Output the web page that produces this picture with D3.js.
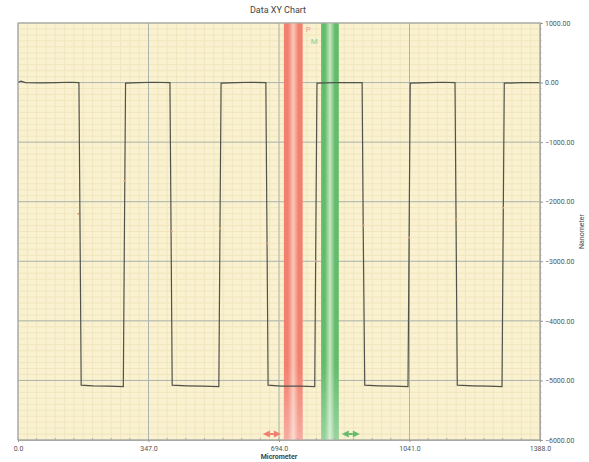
<!DOCTYPE html>
<html>
<head>
<meta charset="utf-8">
<script src="https://cdn.jsdelivr.net/npm/d3@7"></script>
<style>
  body { margin: 0; background: #fff; }
  text { font-family: Roboto, "Liberation Sans", sans-serif; }
</style>
</head>
<body>
<div id="chart"></div>
<script>
// profile data (micrometer, nanometer)
const profileX = [0, 8, 20, 60, 100, 140, 162, 165, 168, 200, 240, 280, 283, 286, 320, 360, 404, 407, 410, 450, 490, 534, 537, 540,
  580, 620, 659, 662, 665, 700, 750, 789, 792, 795, 840, 880, 915, 918, 922, 960, 1000, 1037, 1040, 1043,
  1090, 1130, 1162, 1165, 1168, 1210, 1250, 1287, 1290, 1293, 1340, 1388];
const profileY = [5, 25, 0, -5, 0, 5, 0, -2500, -5080, -5090, -5095, -5105, -2500, -10, 0, 5, 0, -2500, -5080, -5090, -5095, -5105, -2500, -10,
  0, 5, 0, -2500, -5080, -5095, -5095, -5105, -2500, -10, 0, 0, 0, -2500, -5080, -5090, -5095, -5105, -2500, -10,
  0, 5, 0, -2500, -5080, -5090, -5095, -5105, -2500, -10, 0, 0];
const markerX = [160, 283, 409, 537, 663, 792, 919, 1040, 1166, 1290];
const markerY = [-2200, -1650, -2500, -2450, -2700, -3000, -2400, -2600, -2300, -2100];

const xTicks = [0, 347, 694, 1041, 1388];
const yTicks = [1000, 0, -1000, -2000, -3000, -4000, -5000, -6000];
const redCursor = [707, 757];
const greenCursor = [806, 853];

const W = 589, H = 462;
const margin = {top: 23, right: 49, bottom: 22, left: 18};
const pw = W - margin.left - margin.right, ph = H - margin.top - margin.bottom;

const svg = d3.select("#chart").append("svg").attr("width", W).attr("height", H);
const defs = svg.append("defs");

const x = d3.scaleLinear().domain([0, 1388]).range([0, pw]);
const y = d3.scaleLinear().domain([-6000, 1000]).range([ph, 0]);

function hGrad(id, edge, mid) {
  const g = defs.append("linearGradient").attr("id", id).attr("x1", "0").attr("x2", "1").attr("y1", "0").attr("y2", "0");
  [[0, edge], [0.22, edge], [0.5, mid], [0.78, edge], [1, edge]].forEach(s =>
    g.append("stop").attr("offset", s[0]).attr("stop-color", s[1]));
}
hGrad("redG", "#f28070", "#f9c8b8");
hGrad("greenG", "#62bc6c", "#c8e6c0");
const fade = defs.append("linearGradient").attr("id", "fadeG").attr("x1", "0").attr("x2", "0").attr("y1", "0").attr("y2", "1");
fade.append("stop").attr("offset", 0.82).attr("stop-color", "#fff").attr("stop-opacity", 0);
fade.append("stop").attr("offset", 1).attr("stop-color", "#fff").attr("stop-opacity", 0.35);

svg.append("text").attr("x", 278).attr("y", 13).attr("text-anchor", "middle")
  .attr("font-size", 9).attr("fill", "#444").text("Data XY Chart");

const g = svg.append("g").attr("transform", `translate(${margin.left},${margin.top})`);

g.append("rect").attr("width", pw).attr("height", ph).attr("fill", "#f9f1cf");

// minor grid
const xMinor = d3.range(0, 1388.01, 347 / 14);
const yMinor = d3.range(-6000, 1000.01, 100);
g.selectAll(".xm").data(xMinor).enter().append("line")
  .attr("x1", d => x(d)).attr("x2", d => x(d)).attr("y1", 0).attr("y2", ph)
  .attr("stroke", "#f0e6bf").attr("stroke-width", 1);
g.selectAll(".ym").data(yMinor).enter().append("line")
  .attr("y1", d => y(d)).attr("y2", d => y(d)).attr("x1", 0).attr("x2", pw)
  .attr("stroke", "#f1e6bd").attr("stroke-width", 1);

// major grid
g.selectAll(".xg").data(xTicks).enter().append("line")
  .attr("x1", d => x(d)).attr("x2", d => x(d)).attr("y1", 0).attr("y2", ph)
  .attr("stroke", "#adb4ae").attr("stroke-width", 1);
g.selectAll(".yg").data(yTicks).enter().append("line")
  .attr("y1", d => y(d)).attr("y2", d => y(d)).attr("x1", 0).attr("x2", pw)
  .attr("stroke", "#adb4ae").attr("stroke-width", 1);

// cursors
[[redCursor, "url(#redG)"], [greenCursor, "url(#greenG)"]].forEach(c => {
  const w = x(c[0][1]) - x(c[0][0]);
  g.append("rect").attr("x", x(c[0][0])).attr("width", w).attr("y", 0).attr("height", ph).attr("fill", c[1]);
  g.append("rect").attr("x", x(c[0][0])).attr("width", w).attr("y", 0).attr("height", ph).attr("fill", "url(#fadeG)");
});
g.append("text").attr("x", x(redCursor[1]) + 3).attr("y", 9).attr("font-size", 8).attr("fill", "#f4a090").text("P");
g.append("text").attr("x", x(redCursor[1]) + 8).attr("y", 21).attr("font-size", 8).attr("fill", "#8fcf95").text("M");

// bottom arrows
function dblArrow(cx, color) {
  const a = g.append("g").attr("transform", `translate(${cx},${ph - 6})`);
  a.append("path").attr("d", "M-9,0 L-2,-3.5 L-2,3.5 Z M9,0 L2,-3.5 L2,3.5 Z").attr("fill", color);
  a.append("rect").attr("x", -2).attr("y", -1).attr("width", 4).attr("height", 2).attr("fill", color);
}
dblArrow(x(redCursor[0]) - 12, "#ee8070");
dblArrow(x(greenCursor[1]) + 12, "#66bb6e");

// profile line
const pts = profileX.map((d, i) => [d, profileY[i]]);
g.append("path").datum(pts)
  .attr("d", d3.line().x(d => x(d[0])).y(d => y(d[1])))
  .attr("fill", "none").attr("stroke", "#50524c").attr("stroke-width", 1.2);
g.selectAll(".mk").data(markerX).enter().append("circle")
  .attr("cx", d => x(d)).attr("cy", (d, i) => y(markerY[i])).attr("r", 1)
  .attr("fill", "#e8a070");

// border
g.append("rect").attr("width", pw).attr("height", ph).attr("fill", "none").attr("stroke", "#a9aaa6");

// axes
const yAxis = g.append("g").attr("transform", `translate(${pw},0)`)
  .call(d3.axisRight(y).tickValues(yTicks).tickFormat(d3.format(".2f")).tickSize(3));
yAxis.select(".domain").attr("stroke", "#a9aaa6");
yAxis.selectAll("line").attr("stroke", "#999");
yAxis.selectAll("text").attr("font-size", 7).attr("fill", "#555").attr("dx", -1);
g.append("g").attr("transform", `translate(${pw},0)`)
  .selectAll("line").data(yMinor).enter().append("line")
  .attr("x1", 0).attr("x2", 1.5).attr("y1", d => y(d)).attr("y2", d => y(d)).attr("stroke", "#aaa");

const xAxis = g.append("g").attr("transform", `translate(0,${ph})`)
  .call(d3.axisBottom(x).tickValues(xTicks).tickFormat(d3.format(".1f")).tickSize(2));
xAxis.select(".domain").attr("stroke", "#a9aaa6");
xAxis.selectAll("line").attr("stroke", "#999");
xAxis.selectAll("text").attr("font-size", 7).attr("fill", "#555").attr("dy", "0.9em");
g.append("g").attr("transform", `translate(0,${ph})`)
  .selectAll("line").data(d3.range(0, 1388.01, 347 / 7)).enter().append("line")
  .attr("x1", d => x(d)).attr("x2", d => x(d)).attr("y1", 0).attr("y2", -2).attr("stroke", "#aaa");

svg.append("text").attr("x", margin.left + x(694)).attr("y", 459).attr("text-anchor", "middle")
  .attr("font-size", 7).attr("font-weight", "bold").attr("fill", "#444").text("Micrometer");
svg.append("text").attr("transform", `translate(584,${margin.top + ph / 2}) rotate(-90)`)
  .attr("text-anchor", "middle").attr("font-size", 7).attr("fill", "#444").text("Nanometer");
</script>
</body>
</html>
